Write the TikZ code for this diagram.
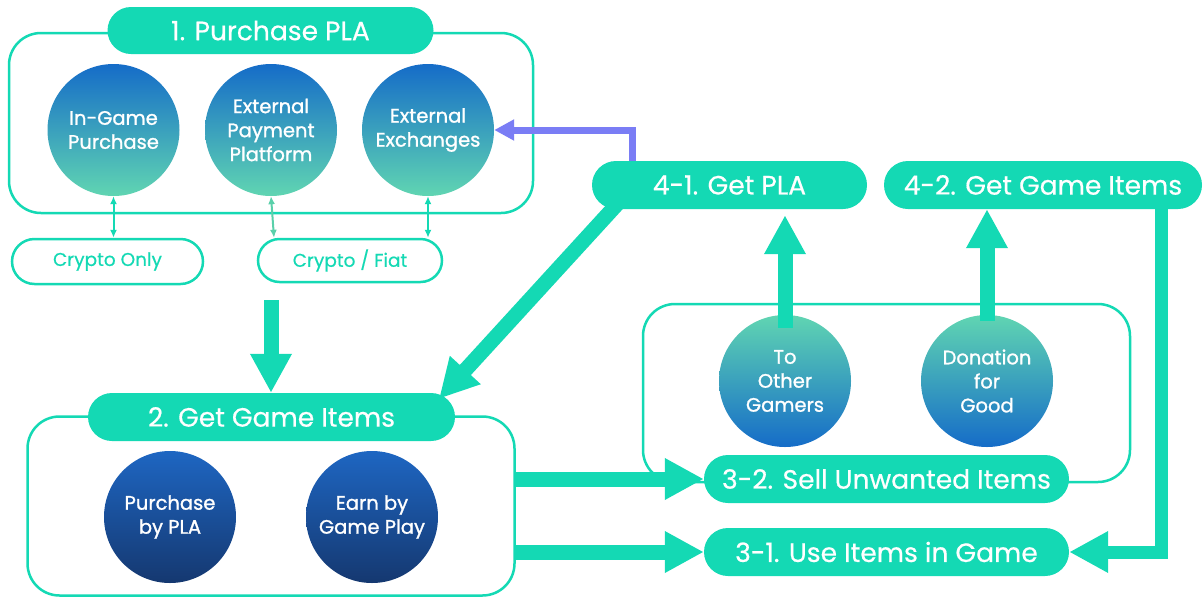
\documentclass[tikz,border=0pt]{standalone}
\usepackage{fontspec}
\setmainfont{Poppins}
\newfontfamily\semib{Poppins}[FakeBold=1.2]
\newfontfamily\medf{Poppins}[FakeBold=0.5]
\usetikzlibrary{arrows.meta,shapes.misc,calc}
\definecolor{teal1}{RGB}{20,217,180}
\definecolor{teal2}{RGB}{90,208,170}
\definecolor{purp}{RGB}{122,125,245}
\definecolor{cblue}{RGB}{21,108,200}
\definecolor{cgreen}{RGB}{96,213,178}
\definecolor{dtop}{RGB}{30,102,194}
\definecolor{dbot}{RGB}{21,56,112}
\begin{document}
\begin{tikzpicture}[x=1pt,y=-1pt,
  boxframe/.style={draw=teal1, line width=2.5pt, rounded corners=32pt, fill=white, inner sep=0pt},
  pill/.style={rounded rectangle, fill=teal1, text=white, inner sep=0pt, font=\medf\fontsize{26.5}{30}\selectfont},
  opill/.style={rounded rectangle, draw=teal1, line width=2.5pt, fill=white, text=teal1, inner sep=0pt, font=\medf\fontsize{18.5}{22}\selectfont},
  upc/.style={circle, minimum size=132pt, inner sep=0pt, top color=cblue, bottom color=cgreen, text=white, align=center, font=\semib\fontsize{19.5}{24}\selectfont},
  downc/.style={upc, top color=cgreen, bottom color=cblue},
  darkc/.style={upc, top color=dtop, bottom color=dbot},
  bigarrow/.style={draw=teal1, line width=15pt, -{Triangle[length=39pt,width=39pt]}},
  purparrow/.style={draw=purp, line width=7pt, -{Triangle[length=20pt,width=20pt]}},
  dbl/.style={draw=teal1, line width=2pt, {Latex[length=8pt,width=7pt]}-{Latex[length=8pt,width=7pt]}}
]
\useasboundingbox (0,0) rectangle (1203,598);

% frames
\node[boxframe, minimum width=524pt, minimum height=180pt] (b1) at (271,123) {};
\node[boxframe, minimum width=487pt, minimum height=179pt] (b2) at (271,506) {};
\node[boxframe, minimum width=487pt, minimum height=178pt] (b3) at (886.5,393) {};

% circles
\node[upc] (c1) at (113.5,130) {In-Game\\Purchase};
\node[upc] (c2) at (271,130) {External\\Payment\\Platform};
\node[upc] (c3) at (428,130) {External\\Exchanges};
\node[darkc] (d1) at (170,517) {Purchase\\by PLA};
\node[darkc] (d2) at (372,517) {Earn by\\Game Play};
\node[downc] (s1) at (785,381) {To\\Other\\Gamers};
\node[downc] (s2) at (987,381) {Donation\\for\\Good};

% outlined pills
\node[opill, minimum width=191pt, minimum height=45pt] (co) at (107.5,261.5) {Crypto Only};
\node[opill, minimum width=184pt, minimum height=43pt] (cf) at (350,260.5) {Crypto / Fiat};

% filled pills
\node[pill, minimum width=326pt, minimum height=47pt] (p1) at (270.5,30.5) {1. Purchase PLA};
\node[pill, minimum width=367pt, minimum height=48pt] (p2) at (271.5,417) {2. Get Game Items};
\node[pill, minimum width=365pt, minimum height=48pt] (p32) at (886.5,479) {3-2. Sell Unwanted Items};
\node[pill, minimum width=365pt, minimum height=48pt] (p31) at (886.5,552) {3-1. Use Items in Game};

% invisible placeholders of the top pills, for the connectors that start under them
\coordinate (p41pos) at (729.5,185);
\coordinate (p42pos) at (1043,185);
\path (p41pos) node[pill, minimum width=275pt, minimum height=48pt, opacity=0] (p41) {4-1. Get PLA};
\path (p42pos) node[pill, minimum width=318pt, minimum height=48pt, opacity=0] (p42) {4-2. Get Game Items};
\draw[purparrow] ($(p41.west |- p41.north)+(41,5)$) |- (c3.east);
\draw[bigarrow] ($(p41.west |- p41.south)+(28,-8)$) -- ($(p2.north east)+(8,6)$);
\draw[bigarrow, line width=13pt] ($(p42.east)+(-41,0)$) |- (p31.east);

% top pills drawn over the connector starts
\node[pill, minimum width=275pt, minimum height=48pt] at (p41pos) {4-1. Get PLA};
\node[pill, minimum width=318pt, minimum height=48pt] at (p42pos) {4-2. Get Game Items};

% other connectors
\draw[dbl] (c1.south) -- (c1.south |- co.north);
\draw[dbl, draw=teal2] (c2.south) -- ($(c2.south |- cf.north)+(3,0)$);
\draw[dbl] (c3.south) -- (c3.south |- cf.north);
\draw[bigarrow] ($(c2.center |- cf.south)+(0,17)$) -- (c2.center |- p2.north);
\draw[bigarrow] (b2.east |- p32.center) -- (p32.west);
\draw[bigarrow] (b2.east |- p31.center) -- (p31.west);
\draw[bigarrow] ($(s1.north)+(0,13)$) -- ($(s1.north |- p41.south)+(0,6)$);
\draw[bigarrow] ($(s2.north)+(0,6)$) -- (s2.north |- p42.south);
\end{tikzpicture}
\end{document}
